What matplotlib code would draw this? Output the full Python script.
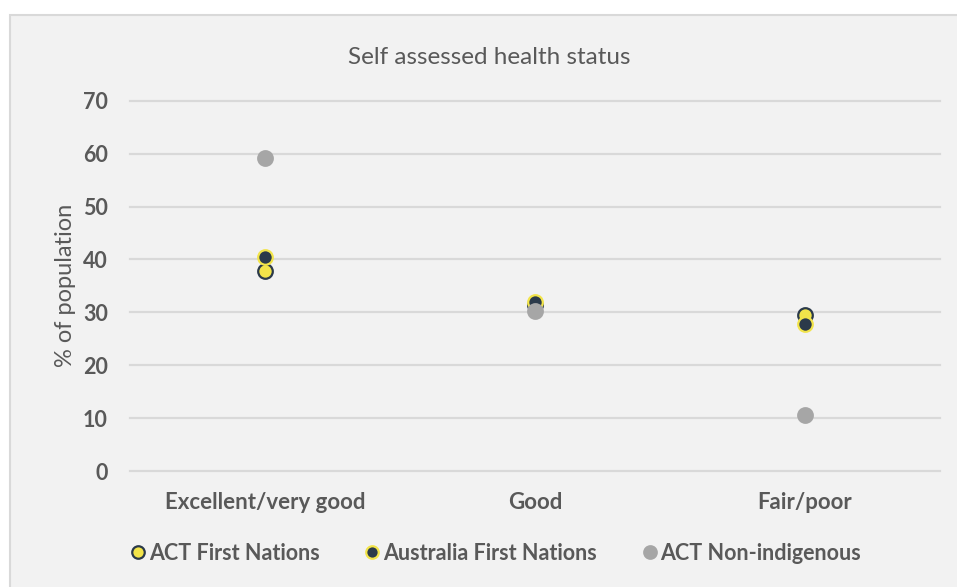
import matplotlib
matplotlib.use("Agg")
import matplotlib.pyplot as plt
from matplotlib.patches import Rectangle
from matplotlib.lines import Line2D

# Data
categories = ["Excellent/very good", "Good", "Fair/poor"]
act_first_nations = [37.8, 31.4, 29.5]
aus_first_nations = [40.4, 31.9, 27.8]
act_non_indigenous = [59.1, 30.2, 10.6]
series_names = ["ACT First Nations", "Australia First Nations", "ACT Non-indigenous"]
y_ticks = [0, 10, 20, 30, 40, 50, 60, 70]

YELLOW = "#F2E44A"
DARK = "#2B3A4A"
GREY = "#A6A6A6"
TEXT = "#595959"
GRID = "#D9D9D9"
BG = "#F2F2F2"
FONT = "Lato"

W, H = 957, 587
fig = plt.figure(figsize=(W / 100, H / 100), dpi=100)
fig.patch.set_facecolor("white")

# chart panel
fig.patches.append(Rectangle((9.5 / W, -0.05), 1.1, (H - 14.5) / H + 0.05,
                             transform=fig.transFigure, facecolor=BG,
                             edgecolor=GRID, linewidth=1.5, zorder=0))

left, right = 130 / W, 940 / W
bottom, top = (H - 471) / H, (H - 100.7) / H
ax = fig.add_axes([left, bottom, right - left, top - bottom])
ax.set_zorder(2)
ax.set_facecolor("none")
for s in ax.spines.values():
    s.set_visible(False)

x = list(range(len(categories)))
ax.set_xlim(-0.5, len(categories) - 0.5)
ax.set_ylim(0, 70)
ax.set_yticks(y_ticks)
ax.grid(axis="y", color=GRID, linewidth=1.6, zorder=1)
ax.set_axisbelow(True)
for gl in ax.get_ygridlines():
    gl.set_clip_on(False)

ms = 10.5
ax.plot(x, act_first_nations, linestyle="none", marker="o", ms=ms,
        markerfacecolor=YELLOW, markeredgecolor=DARK, mew=1.6, zorder=3, clip_on=False)
ax.plot(x, aus_first_nations, linestyle="none", marker="o", ms=ms,
        markerfacecolor=DARK, markeredgecolor=YELLOW, mew=1.6, zorder=4, clip_on=False)
ax.plot(x, act_non_indigenous, linestyle="none", marker="o", ms=ms,
        markerfacecolor=GREY, markeredgecolor=GREY, mew=1.6, zorder=5, clip_on=False)

ax.set_xticks(x)
ax.set_xticklabels(categories)
ax.tick_params(axis="both", length=0, colors=TEXT)
ax.tick_params(axis="x", pad=15)
ax.tick_params(axis="y", pad=16)
for lab in ax.get_xticklabels():
    lab.set_fontfamily(FONT)
    lab.set_fontweight("bold")
    lab.set_fontsize(16)
    lab.set_color(TEXT)
for lab in ax.get_yticklabels():
    lab.set_fontfamily(FONT)
    lab.set_fontweight("bold")
    lab.set_fontsize(15.5)
    lab.set_color(TEXT)

ax.set_ylabel("% of population", fontfamily=FONT, fontsize=17, color=TEXT)
ax.yaxis.set_label_coords((76 - 130) / (940 - 130), 0.5)

fig.text(489 / W, 1 - 57 / H, "Self assessed health status", ha="center", va="center",
         fontfamily=FONT, fontsize=17.5, color=TEXT)

handles = [
    Line2D([], [], linestyle="none", marker="o", ms=9, markerfacecolor=YELLOW,
           markeredgecolor=DARK, mew=1.6),
    Line2D([], [], linestyle="none", marker="o", ms=9, markerfacecolor=DARK,
           markeredgecolor=YELLOW, mew=1.6),
    Line2D([], [], linestyle="none", marker="o", ms=9, markerfacecolor=GREY,
           markeredgecolor=GREY, mew=1.6),
]
leg = fig.legend(handles, series_names, loc="center", bbox_to_anchor=(497 / W, 1 - 553 / H),
                 ncol=3, frameon=False, handlelength=0.5, handletextpad=0.25,
                 columnspacing=2.2, prop={"family": FONT, "weight": "bold", "size": 15.5})
for t in leg.get_texts():
    t.set_color(TEXT)

fig.savefig("out.png", dpi=100)
